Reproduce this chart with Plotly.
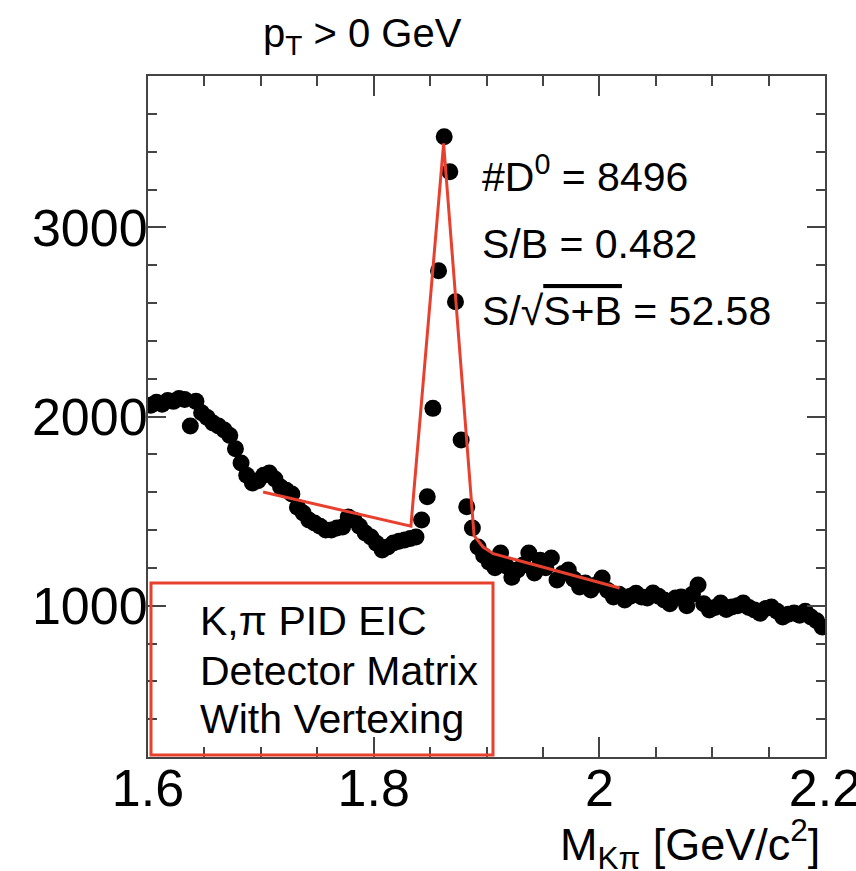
import plotly.graph_objects as go

# Histogram of K-pi invariant mass, 120 bins of 5 MeV from 1.6 to 2.2 GeV/c^2
bin_low = 1.6
bin_width = 0.005
counts = [
    2060, 2075, 2065, 2085, 2080, 2095, 2090, 1950, 2080, 2020,
    1995, 1966, 1950, 1929, 1900, 1830, 1754, 1690, 1648, 1660,
    1690, 1701, 1670, 1627, 1610, 1590, 1520, 1490, 1453, 1437,
    1420, 1400, 1400, 1410, 1416, 1469, 1453, 1420, 1384, 1363,
    1330, 1294, 1310, 1331, 1340, 1347, 1355, 1363, 1453, 1576,
    2043, 2771, 3479, 3294, 2607, 1876, 1523, 1411, 1310, 1265,
    1230, 1200, 1278, 1210, 1150, 1188, 1215, 1278, 1173, 1240,
    1200, 1252, 1136, 1170, 1188, 1140, 1099, 1120, 1083, 1110,
    1146, 1080, 1046, 1060, 1030, 1050, 1065, 1046, 1040, 1067,
    1050, 1030, 1010, 1040, 1046, 1000, 1060, 1109, 1010, 977,
    990, 1014, 980, 993, 1000, 1014, 990, 977, 960, 985,
    993, 970, 940, 955, 961, 950, 970, 940, 920, 887,
]
mass = [round(bin_low + bin_width * (i + 0.5), 4) for i in range(len(counts))]

# Fit curve (Gaussian + linear background), as drawn
fit_mass = [1.702, 1.833, 1.862, 1.889, 1.897, 1.906, 2.018]
fit_counts = [1601, 1420, 3444, 1370, 1310, 1275, 1093]

x_ticks = [1.6, 1.8, 2.0, 2.2]
x_ticktext = ["1.6", "1.8", "2", "2.2"]
y_ticks = [1000, 2000, 3000]
y_ticktext = ["1000", "2000", "3000"]

RED = "#e8402f"
AXC = "#444444"
FONT = "Liberation Sans, Arial, Helvetica, sans-serif"

fig = go.Figure()
fig.add_trace(go.Scatter(
    x=mass, y=counts, mode="markers",
    marker=dict(color="black", size=17, line=dict(width=0)),
    showlegend=False, hoverinfo="x+y"))
fig.add_trace(go.Scatter(
    x=fit_mass, y=fit_counts, mode="lines",
    line=dict(color=RED, width=3),
    showlegend=False, hoverinfo="skip"))

fig.update_layout(
    width=856, height=871,
    margin=dict(l=148, r=31, t=76, b=114, pad=0, autoexpand=False),
    paper_bgcolor="white", plot_bgcolor="white",
    font=dict(family=FONT, color="black"),
    xaxis=dict(
        range=[1.6, 2.2], tickvals=x_ticks, ticktext=x_ticktext,
        ticks="inside", ticklen=20, tickwidth=2, tickcolor=AXC,
        showline=True, linecolor=AXC, linewidth=2, mirror="allticks",
        showgrid=False, zeroline=False, ticklabeloverflow="allow",
        ticklabelstandoff=-15, automargin=False,
        tickfont=dict(size=52, family=FONT, color="black"),
        minor=dict(dtick=0.05, tick0=1.6, ticks="inside", ticklen=10,
                   tickwidth=2, tickcolor=AXC, showgrid=False),
    ),
    yaxis=dict(
        range=[200, 3800], tickvals=y_ticks, ticktext=y_ticktext,
        ticks="inside", ticklen=18, tickwidth=2, tickcolor=AXC,
        showline=True, linecolor=AXC, linewidth=2, mirror="allticks",
        showgrid=False, zeroline=False, ticklabeloverflow="allow",
        ticklabelstandoff=-12, automargin=False,
        tickfont=dict(size=52, family=FONT, color="black"),
        minor=dict(dtick=200, tick0=0, ticks="inside", ticklen=9,
                   tickwidth=2, tickcolor=AXC, showgrid=False),
    ),
)

def px2x(px):
    return (px - 148) / 677.0

def py2y(py):
    return (757 - py) / 681.0

annots = [
    dict(text="p<sub>T</sub> > 0 GeV", x=px2x(362), y=py2y(36), xanchor="center", size=40),
    dict(text="#D<sup>0</sup> = 8496", x=px2x(480), y=py2y(174), xanchor="left", size=41),
    dict(text="S/B = 0.482", x=px2x(480), y=py2y(244), xanchor="left", size=41),
    dict(text="S/√<span style='text-decoration:overline'>S+B</span> = 52.58",
         x=px2x(480), y=py2y(311), xanchor="left", size=41),
    dict(text="K,π PID EIC", x=px2x(198), y=py2y(621), xanchor="left", size=41),
    dict(text="Detector Matrix", x=px2x(198), y=py2y(671), xanchor="left", size=41),
    dict(text="With Vertexing", x=px2x(198), y=py2y(719), xanchor="left", size=41),
    dict(text="M<sub>Kπ</sub> [GeV/c<sup>2</sup>]", x=px2x(822), y=py2y(844), xanchor="right", size=45),
]
for a in annots:
    fig.add_annotation(
        text=a["text"], x=a["x"], y=a["y"], xref="paper", yref="paper",
        xanchor=a["xanchor"], yanchor="middle", showarrow=False,
        font=dict(size=a["size"], family=FONT, color="black"))

# Red frame around the detector label
fig.add_shape(type="rect", xref="paper", yref="paper",
              x0=px2x(151), x1=px2x(493), y0=py2y(755), y1=py2y(583),
              line=dict(color=RED, width=3), fillcolor="rgba(0,0,0,0)")

fig.write_html("out.html")
